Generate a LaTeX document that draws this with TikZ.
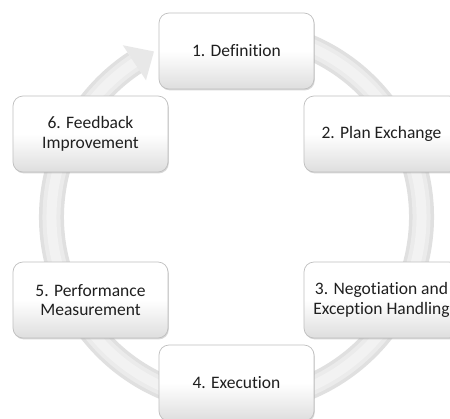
\documentclass[tikz,border=0pt]{standalone}
\usepackage{fontspec}
\setmainfont[Ligatures=NoCommon]{Carlito}
\usetikzlibrary{shadows}
\begin{document}
\begin{tikzpicture}[x=1pt,y=-1pt,
  stepbox/.style={rounded corners=10pt, draw=black!25, line width=0.7pt,
    top color=white, bottom color=black!13, middle color=white,
    minimum width=155pt, minimum height=76pt, align=center, text=black!88,
    font=\fontsize{17.5}{19.5}\selectfont, inner sep=0pt,
    drop shadow={shadow xshift=0.8pt, shadow yshift=-1.4pt, opacity=0.3}},
  ringout/.style={line width=25pt, draw=black!12},
  ringmid/.style={line width=18pt, draw=black!8},
  ringin/.style={line width=10pt, draw=black!5},
  ringhead/.style={fill=black!9, draw=none}]
\useasboundingbox (0,0) rectangle (450,418);
\clip (0,0) rectangle (450,418);
\fill[white] (0,0) rectangle (450,418);
% circular arrow
\begin{scope}[shift={(236.5,217)}, yscale=-1]
  \draw[ringout] (80:185) arc[start angle=80, end angle=-236.5, radius=185];
  \draw[ringmid] (80:185) arc[start angle=80, end angle=-236.5, radius=185];
  \draw[ringin] (80:185) arc[start angle=80, end angle=-236.5, radius=185];
  \coordinate (hw1) at (123.5:164);
  \coordinate (htip) at (116.5:185);
  \coordinate (hw2) at (123.5:206);
  \path[ringhead] (hw1) -- (htip) -- (hw2) -- cycle;
\end{scope}
% steps
\node[stepbox] (s1) at (236.5,51) {1. Definition};
\node[stepbox] (s2) at (381.5,134) {2. Plan Exchange};
\node[stepbox] (s3) at (381.5,300) {3. Negotiation and\\Exception Handling};
\node[stepbox] (s4) at (236.5,383) {4. Execution};
\node[stepbox] (s5) at (90.5,300) {5. Performance\\Measurement};
\node[stepbox] (s6) at (90.5,134) {6. Feedback\\Improvement};
\end{tikzpicture}
\end{document}
